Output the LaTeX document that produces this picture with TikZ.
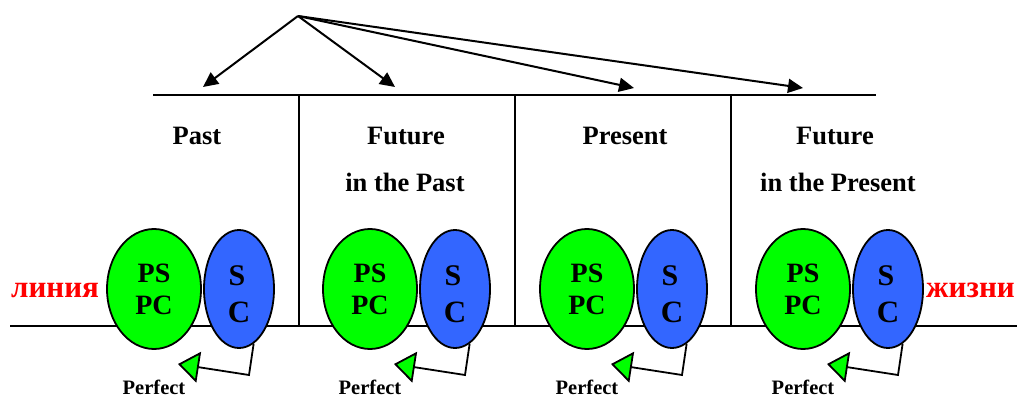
\documentclass[tikz,border=0pt]{standalone}
\usepackage{fontspec}
\setmainfont{Liberation Serif}
\usetikzlibrary{arrows.meta,shapes.geometric}
\definecolor{pgreen}{RGB}{0,255,0}
\definecolor{pblue}{RGB}{51,102,255}
\definecolor{pred}{RGB}{255,0,0}
\begin{document}
\begin{tikzpicture}[x=1pt,y=-1pt,
  ln/.style={line width=2pt},
  toparr/.style={line width=2pt,-{Triangle[length=15pt,width=14pt]}},
  perarr/.style={line width=1.8pt,-{Triangle[length=21pt,width=31pt,fill=pgreen]}},
  gell/.style={ellipse,draw,line width=1.8pt,fill=pgreen,minimum width=94pt,minimum height=120pt,inner sep=0pt,
    align=center,font=\fontsize{28}{32}\selectfont\bfseries},
  bell/.style={ellipse,draw,line width=1.8pt,fill=pblue,minimum width=70pt,minimum height=118pt,inner sep=0pt},
  stxt/.style={font=\fontsize{30}{32}\selectfont\bfseries,anchor=base,inner sep=0pt},
  ctxt/.style={font=\fontsize{31}{34}\selectfont\bfseries,anchor=base,inner sep=0pt},
  lbl/.style={font=\fontsize{26.5}{30}\selectfont\bfseries,anchor=base,inner sep=0pt},
  ptxt/.style={font=\fontsize{20.5}{24}\selectfont\bfseries,anchor=base,inner sep=0pt},
  rtxt/.style={font=\fontsize{31}{34}\selectfont\bfseries,text=pred,inner sep=0pt}
]
\useasboundingbox (0,0) rectangle (1017,398);

% frame lines
\coordinate (tl) at (153,95);
\coordinate (tr) at (876,95);
\coordinate (bl) at (10,326);
\coordinate (br) at (1017,326);
\draw[ln] (tl) -- (tr);
\draw[ln] (bl) -- (br);
\foreach \x [count=\k] in {299,515,731}{
  \coordinate (vt\k) at (\x,95);
  \coordinate (vb\k) at (\x,326);
  \draw[ln] (vt\k) -- (vb\k);
}

% top arrows
\coordinate (apex) at (298,16);
\coordinate (t1) at (203,87);
\coordinate (t2) at (395,87);
\coordinate (t3) at (634,88);
\coordinate (t4) at (803,88);
\foreach \k in {1,...,4}{
  \draw[toparr] (apex) -- (t\k);
}

% labels
\node[lbl] (lpast) at (197,145) {Past};
\node[lbl] (lfut1) at (406,145) {Future};
\node[lbl] (lfut1b) at (405,192) {in the Past};
\node[lbl] (lpres) at (625,145) {Present};
\node[lbl] (lfut2) at (835,145) {Future};
\node[lbl] (lfut2b) at (838,192) {in the Present};

% red words
\node[rtxt,anchor=base west] (lin) at (11,297) {линия};
\node[rtxt,anchor=base west] (zhi) at (926,297) {жизни};

% groups
\foreach \i/\dx in {1/0,2/216,3/433,4/649}{
  \node[gell] (g\i) at (154+\dx,289) {PS\\PC};
  \node[bell] (b\i) at (239+\dx,289) {};
  \node[stxt] (bs\i) at (237+\dx,285) {S};
  \node[ctxt] (bc\i) at (239+\dx,322) {C};
  \coordinate (c\i) at (249+\dx,375);
  \coordinate (p\i) at (178+\dx,364);
  \draw[perarr] (b\i.-75) -- (c\i) -- (p\i);
  \node[ptxt] (pf\i) at (154+\dx,394) {Perfect};
}
\end{tikzpicture}
\end{document}
